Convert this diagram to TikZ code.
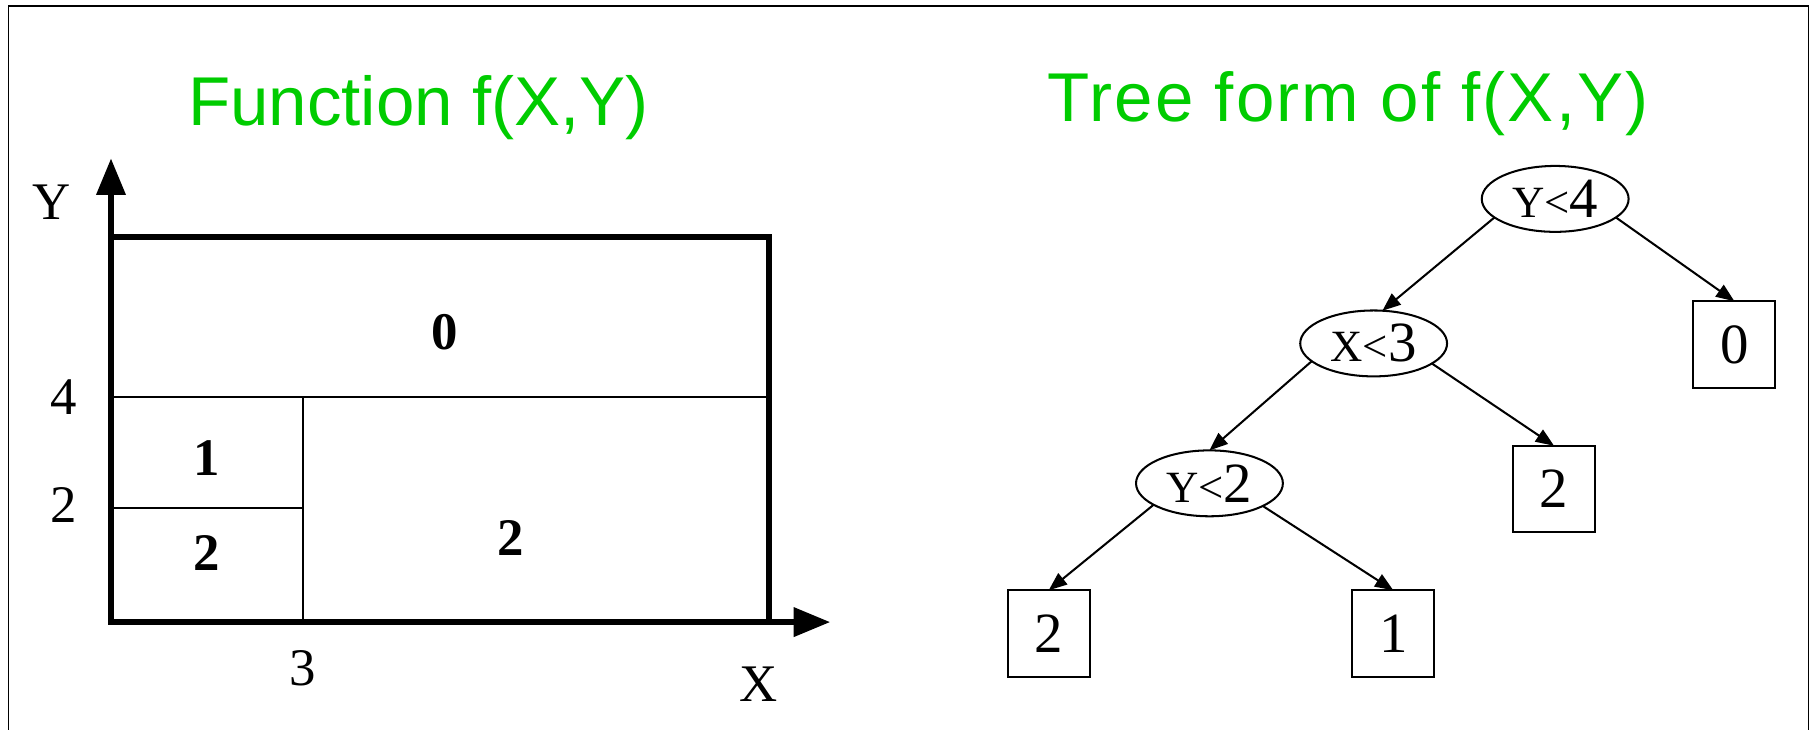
\documentclass[tikz,border=0pt]{standalone}
\usepackage{fontspec}
\setmainfont{Liberation Serif}
\newfontfamily\headfont{Liberation Sans}
\usepackage{tikz}
\usetikzlibrary{positioning, shapes.geometric, arrows.meta}
\definecolor{headgreen}{RGB}{0,204,0}

\begin{document}
\begin{tikzpicture}[outer sep=0pt,
        heading/.style={text=headgreen, font=\fontsize{17}{17}\selectfont\headfont},
        axislabel/.style={font=\fontsize{13}{13}\selectfont},
        value/.style={font=\fontsize{13}{13}\selectfont\bfseries},
        test/.style={draw, ellipse, line width=0.5pt, minimum width=1.27cm, minimum height=0.57cm, inner sep=0pt, font=\fontsize{14}{14}\selectfont},
        leaf/.style={draw, rectangle, line width=0.5pt, minimum width=0.71cm, minimum height=0.75cm, inner sep=0pt, font=\fontsize{14}{14}\selectfont},
        axis/.style={line width=1.4pt, -{Triangle[length=9pt, width=7pt]}},
        branch/.style={line width=0.5pt, -{Triangle[length=4.5pt, width=3.5pt]}}]
        \useasboundingbox (0,0) rectangle (15.68,-6.31);
        \draw[line width=0.4pt] (0.075,-6.4) -- (0.075,-0.05) -- (15.64,-0.05) -- (15.64,-6.4);

        \node (fhead) [heading] at (3.62,-0.93) {Function f(X,Y)};
        \node (thead) [heading] at (11.66,-0.90) {\addfontfeature{LetterSpace=3}Tree form of f(X,Y)};

        \coordinate (origin) at (0.96,-5.38);
        \coordinate (ytip) at (0.96,-1.37);
        \coordinate (xtip) at (7.18,-5.38);
        \draw[axis] (origin) -- (ytip);
        \draw[axis] (origin) -- (xtip);
        \draw[line width=1.4pt] (origin) rectangle (6.65,-2.05);
        \draw[line width=0.5pt] (0.96,-3.43) -- (6.65,-3.43);
        \draw[line width=0.5pt] (2.62,-3.43) -- (2.62,-5.38);
        \draw[line width=0.5pt] (0.96,-4.39) -- (2.62,-4.39);

        \node (ylab) [axislabel] at (0.45,-1.75) {Y};
        \node (xlab) [axislabel] at (6.56,-5.92) {X};
        \node (yfour) [axislabel] at (0.55,-3.43) {4};
        \node (ytwo) [axislabel] at (0.55,-4.37) {2};
        \node (xthree) [axislabel] at (2.62,-5.78) {3};

        \node (topcell) [value] at (3.85,-2.87) {0};
        \node (midcell) [value] at (1.79,-3.96) {1};
        \node (lowcell) [value] at (1.79,-4.78) {2};
        \node (rightcell) [value] at (4.42,-4.65) {2};

        \node (ytest) [test] at (13.45,-1.72) {{\fontsize{11}{11}\selectfont Y<}4};
        \node (xtest) [test] at (11.88,-2.97) {{\fontsize{11}{11}\selectfont X<}3};
        \node (ylow) [test] at (10.46,-4.18) {{\fontsize{11}{11}\selectfont Y<}2};
        \node (leafzero) [leaf] at (15.00,-2.98) {0};
        \node (leafright) [leaf] at (13.44,-4.23) {2};
        \node (leafleft) [leaf] at (9.07,-5.48) {2};
        \node (leafone) [leaf] at (12.05,-5.48) {1};

        \draw[branch] (ytest.197) -- (xtest.75);
        \draw[branch] (ytest.343) -- (leafzero.north);
        \draw[branch] (xtest.196) -- (ylow.north);
        \draw[branch] (xtest.341) -- (leafright.north);
        \draw[branch] (ylow.201) -- (leafleft.north);
        \draw[branch] (ylow.337) -- (leafone.north);
    \end{tikzpicture}
\end{document}
